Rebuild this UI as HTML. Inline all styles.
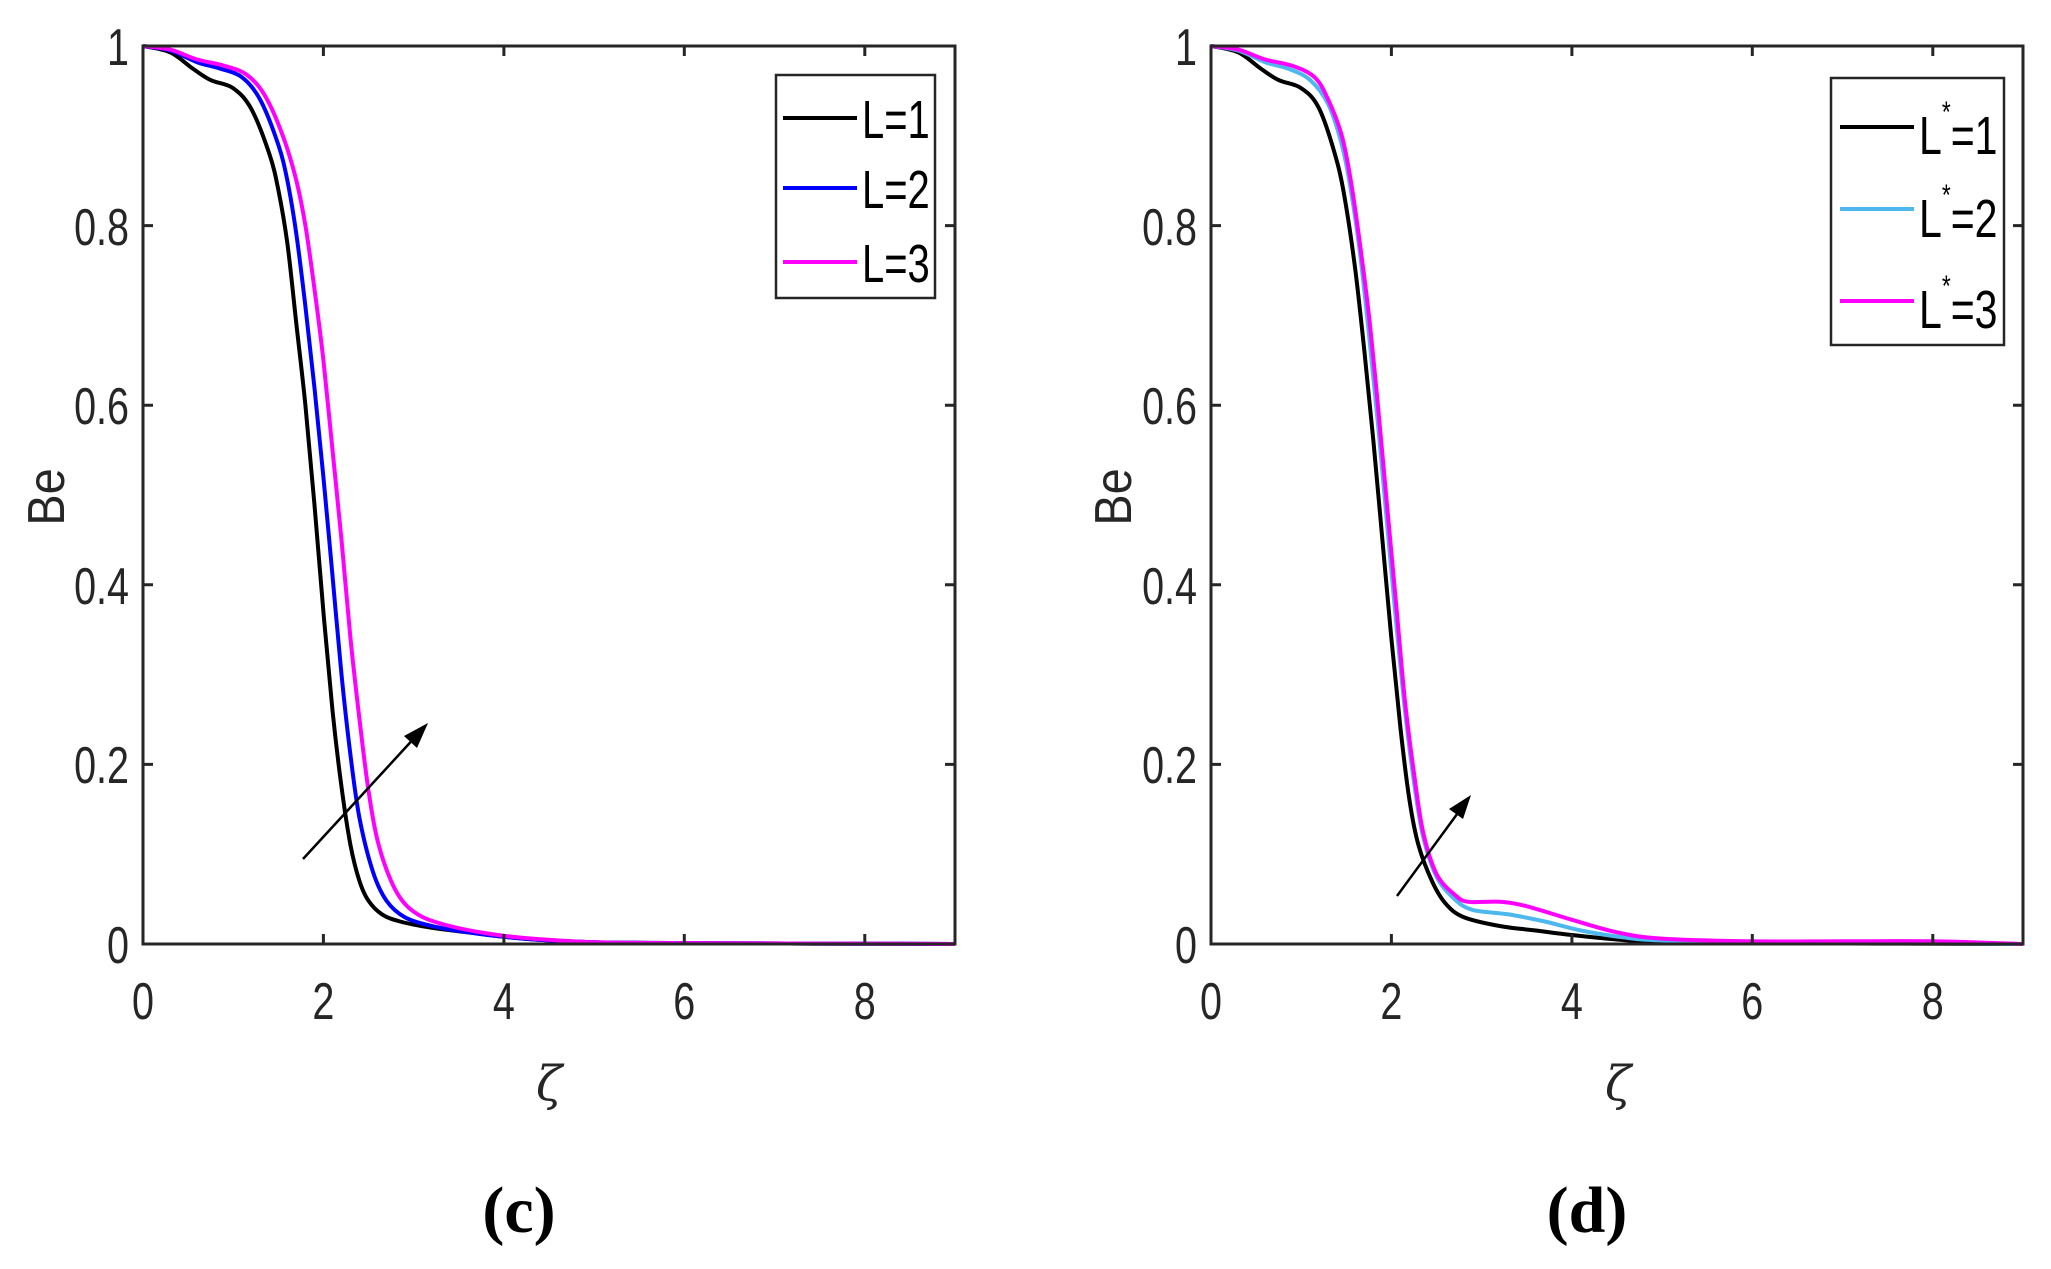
<!DOCTYPE html>
<html><head><meta charset="utf-8"><style>
html,body{margin:0;padding:0;background:#fff;}
svg{display:block;}
.t{font-family:"Liberation Sans",sans-serif;font-size:52px;fill:#262626;}
.lg{font-family:"Liberation Sans",sans-serif;font-size:54px;fill:#000;}
.cap{font-family:"Liberation Serif",serif;font-size:66px;font-weight:bold;fill:#000;}
</style></head><body>
<svg id="s" width="2051" height="1269" viewBox="0 0 2051 1269" xmlns="http://www.w3.org/2000/svg">
<rect width="2051" height="1269" fill="#fff"/>
<g id="curves"></g>
<g fill="none" stroke="#262626" stroke-width="3">
<rect x="143" y="46" width="812" height="898"/>
<path d="M143 764.4h10M143 584.8h10M143 405.2h10M143 225.6h10M955 764.4h-10M955 584.8h-10M955 405.2h-10M955 225.6h-10M323.4 944v-10M503.9 944v-10M684.3 944v-10M864.8 944v-10M323.4 46v10M503.9 46v10M684.3 46v10M864.8 46v10"/>
<rect x="1211" y="46" width="812" height="898"/>
<path d="M1211 764.4h10M1211 584.8h10M1211 405.2h10M1211 225.6h10M2023 764.4h-10M2023 584.8h-10M2023 405.2h-10M2023 225.6h-10M1391.4 944v-10M1571.9 944v-10M1752.3 944v-10M1932.8 944v-10M1391.4 46v10M1571.9 46v10M1752.3 46v10M1932.8 46v10"/>
</g>
<g class="t" text-anchor="end">
<text transform="translate(129,963) scale(0.76,1)">0</text>
<text transform="translate(129,783) scale(0.76,1)">0.2</text>
<text transform="translate(129,604) scale(0.76,1)">0.4</text>
<text transform="translate(129,424) scale(0.76,1)">0.6</text>
<text transform="translate(129,245) scale(0.76,1)">0.8</text>
<text transform="translate(129,65) scale(0.76,1)">1</text>
<text transform="translate(1197,963) scale(0.76,1)">0</text>
<text transform="translate(1197,783) scale(0.76,1)">0.2</text>
<text transform="translate(1197,604) scale(0.76,1)">0.4</text>
<text transform="translate(1197,424) scale(0.76,1)">0.6</text>
<text transform="translate(1197,245) scale(0.76,1)">0.8</text>
<text transform="translate(1197,65) scale(0.76,1)">1</text>
</g>
<g class="t" text-anchor="middle">
<text transform="translate(143,1019) scale(0.76,1)">0</text>
<text transform="translate(323.4,1019) scale(0.76,1)">2</text>
<text transform="translate(503.9,1019) scale(0.76,1)">4</text>
<text transform="translate(684.3,1019) scale(0.76,1)">6</text>
<text transform="translate(864.8,1019) scale(0.76,1)">8</text>
<text transform="translate(1211,1019) scale(0.76,1)">0</text>
<text transform="translate(1391.4,1019) scale(0.76,1)">2</text>
<text transform="translate(1571.9,1019) scale(0.76,1)">4</text>
<text transform="translate(1752.3,1019) scale(0.76,1)">6</text>
<text transform="translate(1932.8,1019) scale(0.76,1)">8</text>
</g>
<g class="t" text-anchor="middle">
<text transform="translate(64,497) rotate(-90) scale(0.9,1)">Be</text>
<text transform="translate(1131,497) rotate(-90) scale(0.9,1)">Be</text>
<text x="549" y="1100" font-family="DejaVu Serif,serif" font-style="italic" font-size="48">ζ</text>
<text x="1618" y="1100" font-family="DejaVu Serif,serif" font-style="italic" font-size="48">ζ</text>
</g>
<text class="cap" x="519" y="1232" text-anchor="middle">(c)</text>
<text class="cap" x="1587" y="1232" text-anchor="middle">(d)</text>
<g stroke="#000" stroke-width="2.5">
<line x1="303" y1="859" x2="418" y2="734"/>
<line x1="1397" y1="896" x2="1463" y2="806"/>
</g>
<polygon points="428,723 404,736 417,748" fill="#000"/>
<polygon points="1471,795 1449,809 1463,819" fill="#000"/>
<rect x="776" y="75" width="159" height="223" fill="#fff" stroke="#262626" stroke-width="2.5"/>
<g stroke-width="4">
<line x1="783" y1="118" x2="857" y2="118" stroke="#000"/>
<line x1="783" y1="188" x2="857" y2="188" stroke="#0000ff"/>
<line x1="783" y1="262" x2="857" y2="262" stroke="#ff00ff"/>
</g>
<g class="lg">
<text transform="translate(862,138) scale(0.74,1)">L=1</text>
<text transform="translate(862,208) scale(0.74,1)">L=2</text>
<text transform="translate(862,282) scale(0.74,1)">L=3</text>
</g>
<rect x="1831" y="78" width="173" height="267" fill="#fff" stroke="#262626" stroke-width="2.5"/>
<g stroke-width="4">
<line x1="1840" y1="127" x2="1914" y2="127" stroke="#000"/>
<line x1="1840" y1="209" x2="1914" y2="209" stroke="#4db8ee"/>
<line x1="1840" y1="301" x2="1914" y2="301" stroke="#ff00ff"/>
</g>
<g class="lg">
<text transform="translate(1919,154) scale(0.76,1)">L<tspan font-size="30" dy="-32">*</tspan><tspan dy="32">=1</tspan></text>
<text transform="translate(1919,237) scale(0.76,1)">L<tspan font-size="30" dy="-32">*</tspan><tspan dy="32">=2</tspan></text>
<text transform="translate(1919,328) scale(0.76,1)">L<tspan font-size="30" dy="-32">*</tspan><tspan dy="32">=3</tspan></text>
</g>
</svg>
<script>
(function(){
var ns="http://www.w3.org/2000/svg";
function path(pts,x0,col){
 var P=pts.map(function(p){return [x0+p[0]*90.22,944-p[1]*898];});
 var d="M"+P[0][0].toFixed(1)+" "+P[0][1].toFixed(1);
 for(var i=0;i<P.length-1;i++){
  var p0=P[i-1]||P[i],p1=P[i],p2=P[i+1],p3=P[i+2]||P[i+1];
  var c1=[p1[0]+(p2[0]-p0[0])/6,p1[1]+(p2[1]-p0[1])/6];
  var c2=[p2[0]-(p3[0]-p1[0])/6,p2[1]-(p3[1]-p1[1])/6];
  d+=" C"+c1[0].toFixed(1)+" "+c1[1].toFixed(1)+" "+c2[0].toFixed(1)+" "+c2[1].toFixed(1)+" "+p2[0].toFixed(1)+" "+p2[1].toFixed(1);
 }
 var e=document.createElementNS(ns,"path");
 e.setAttribute("d",d);e.setAttribute("fill","none");e.setAttribute("stroke",col);e.setAttribute("stroke-width","4");
 document.getElementById("curves").appendChild(e);
}
var blk=[[0,1],[0.3,0.993],[0.55,0.975],[0.75,0.962],[1.0,0.953],[1.2,0.93],[1.4,0.88],[1.5,0.84],[1.6,0.78],[1.7,0.69],[1.8,0.6],[1.9,0.49],[2.0,0.37],[2.1,0.26],[2.2,0.175],[2.3,0.11],[2.4,0.07],[2.5,0.048],[2.65,0.033],[2.85,0.025],[3.2,0.018],[3.6,0.013],[4,0.008],[4.5,0.004],[5,0.002],[6,0.001],[9,0]];
var blu=[[0,1],[0.3,0.995],[0.6,0.982],[0.85,0.975],[1.1,0.965],[1.3,0.94],[1.5,0.89],[1.6,0.85],[1.7,0.79],[1.8,0.71],[1.9,0.62],[2.0,0.52],[2.1,0.41],[2.2,0.3],[2.3,0.21],[2.4,0.14],[2.55,0.08],[2.7,0.048],[2.9,0.03],[3.2,0.02],[3.6,0.013],[4,0.008],[4.5,0.004],[5,0.002],[6,0.001],[9,0]];
var mag=[[0,1],[0.3,0.996],[0.6,0.985],[0.9,0.978],[1.15,0.968],[1.35,0.945],[1.55,0.9],[1.7,0.85],[1.8,0.8],[1.9,0.73],[2.0,0.65],[2.1,0.55],[2.2,0.45],[2.3,0.34],[2.4,0.25],[2.5,0.17],[2.6,0.115],[2.75,0.07],[2.9,0.045],[3.1,0.03],[3.4,0.02],[3.8,0.012],[4.2,0.007],[5,0.002],[6,0.001],[9,0]];
path(blk,143,"#000");path(blu,143,"#0000ff");path(mag,143,"#ff00ff");
var b2=[[0,1],[0.3,0.993],[0.55,0.975],[0.75,0.962],[1.0,0.953],[1.2,0.93],[1.4,0.87],[1.5,0.82],[1.6,0.75],[1.7,0.66],[1.8,0.56],[1.9,0.45],[2.0,0.34],[2.1,0.24],[2.2,0.16],[2.3,0.11],[2.45,0.07],[2.6,0.045],[2.8,0.03],[3.2,0.02],[3.6,0.015],[4,0.01],[4.5,0.005],[5,0.002],[6,0.001],[9,0]];
var c2=[[0,1],[0.3,0.995],[0.6,0.982],[0.85,0.975],[1.1,0.962],[1.3,0.935],[1.45,0.89],[1.55,0.84],[1.65,0.77],[1.75,0.68],[1.85,0.58],[1.95,0.47],[2.05,0.36],[2.15,0.26],[2.25,0.18],[2.35,0.12],[2.5,0.075],[2.7,0.05],[2.9,0.038],[3.3,0.033],[3.7,0.025],[4.1,0.015],[4.6,0.007],[5,0.004],[6,0.002],[9,0]];
var m2=[[0,1],[0.3,0.996],[0.6,0.985],[0.9,0.978],[1.15,0.965],[1.3,0.94],[1.45,0.9],[1.55,0.85],[1.65,0.78],[1.75,0.7],[1.85,0.6],[1.95,0.49],[2.05,0.38],[2.15,0.27],[2.25,0.19],[2.35,0.125],[2.5,0.078],[2.7,0.055],[2.85,0.047],[3.2,0.047],[3.5,0.042],[4,0.027],[4.5,0.013],[5,0.006],[6,0.003],[7,0.003],[8,0.003],[9,0]];
path(b2,1211,"#000");path(c2,1211,"#4db8ee");path(m2,1211,"#ff00ff");
})();
</script>
</body></html>
